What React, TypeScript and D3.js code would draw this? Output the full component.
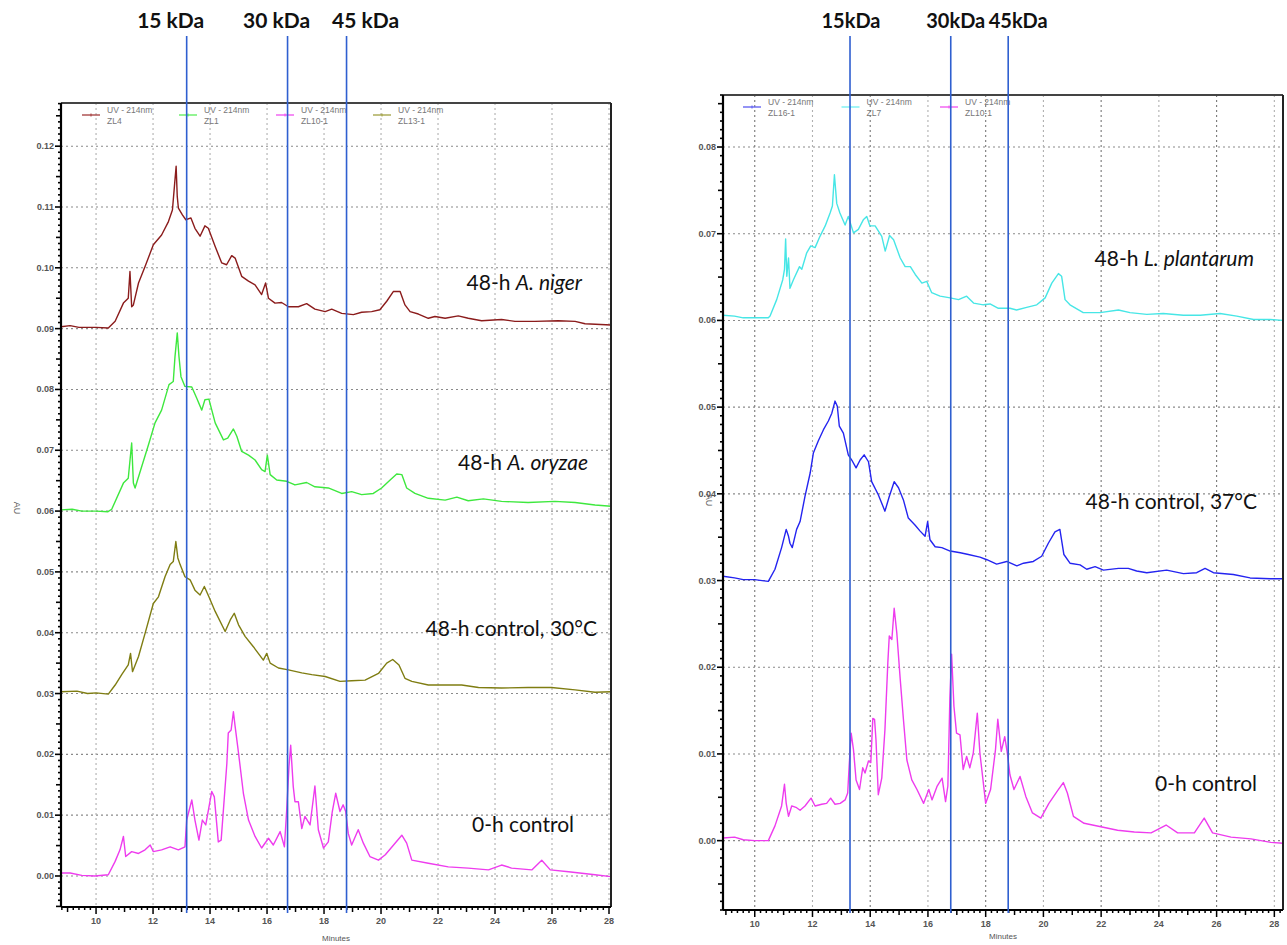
import React, { useRef, useEffect } from 'react';
import * as d3 from 'd3';

type Pt = [number, number];

// ---- left panel traces (minutes, AU) ----
const zl4: Pt[] = [
  [8.77, 0.0903], [9.09, 0.0905], [9.4, 0.0902], [10.0, 0.0902], [10.43, 0.0901], [10.67, 0.0912],
  [10.96, 0.0942], [11.13, 0.095], [11.19, 0.0994], [11.25, 0.0936], [11.31, 0.0939], [11.49, 0.0975],
  [11.72, 0.1002], [12.01, 0.1038], [12.3, 0.1054], [12.54, 0.1076], [12.68, 0.1095], [12.75, 0.1134],
  [12.81, 0.1167], [12.85, 0.1117], [12.89, 0.1098], [13.03, 0.1087], [13.15, 0.1079], [13.33, 0.1082],
  [13.47, 0.1065], [13.65, 0.1052], [13.82, 0.1069], [13.94, 0.1065], [14.18, 0.1035], [14.41, 0.1008],
  [14.58, 0.1005], [14.76, 0.102], [14.88, 0.1016], [15.11, 0.0986], [15.35, 0.0978], [15.58, 0.0972],
  [15.81, 0.0956], [15.95, 0.0975], [16.05, 0.095], [16.28, 0.0942], [16.51, 0.0943], [16.75, 0.0936],
  [17.1, 0.0936], [17.39, 0.0941], [17.68, 0.0932], [18.04, 0.0928], [18.27, 0.0932], [18.62, 0.0925],
  [19.03, 0.0923], [19.32, 0.0927], [19.67, 0.0928], [19.96, 0.0931], [20.2, 0.0945], [20.43, 0.0961],
  [20.67, 0.0961], [20.84, 0.0939], [21.02, 0.0928], [21.31, 0.0924], [21.66, 0.0917], [21.89, 0.092],
  [22.25, 0.0917], [22.71, 0.0921], [23.06, 0.0917], [23.53, 0.0913], [24.23, 0.0915], [24.7, 0.0912],
  [25.4, 0.0912], [26.22, 0.0913], [26.81, 0.0912], [27.16, 0.0908], [28.07, 0.0906],
];

const zl1: Pt[] = [
  [8.77, 0.0602], [9.16, 0.0603], [9.5, 0.06], [10.0, 0.06], [10.42, 0.0599], [10.55, 0.0603],
  [10.96, 0.0646], [11.13, 0.0654], [11.25, 0.0712], [11.31, 0.0646], [11.37, 0.0638], [11.6, 0.0673],
  [11.84, 0.0709], [12.07, 0.0745], [12.3, 0.0766], [12.56, 0.0808], [12.71, 0.0813], [12.77, 0.0854],
  [12.85, 0.0893], [12.91, 0.0854], [12.98, 0.0821], [13.12, 0.0805], [13.36, 0.0804], [13.53, 0.0786],
  [13.71, 0.0766], [13.82, 0.0783], [13.96, 0.0784], [14.18, 0.0745], [14.47, 0.0717], [14.62, 0.072],
  [14.82, 0.0735], [14.94, 0.0723], [15.11, 0.0698], [15.35, 0.0692], [15.58, 0.0684], [15.81, 0.0668],
  [15.93, 0.0665], [16.01, 0.0692], [16.11, 0.066], [16.34, 0.0651], [16.69, 0.0649], [16.98, 0.0643],
  [17.39, 0.0647], [17.68, 0.064], [18.15, 0.0638], [18.62, 0.0629], [18.97, 0.0632], [19.32, 0.0627],
  [19.73, 0.0629], [20.02, 0.0638], [20.32, 0.0651], [20.55, 0.0661], [20.73, 0.066], [20.9, 0.0638],
  [21.19, 0.0629], [21.66, 0.0621], [22.25, 0.0618], [22.66, 0.0623], [23.06, 0.0617], [23.59, 0.062],
  [24.23, 0.0616], [25.16, 0.0614], [26.1, 0.0616], [26.81, 0.0614], [27.51, 0.061], [28.07, 0.0608],
];

const zl13: Pt[] = [
  [8.77, 0.0303], [9.33, 0.0304], [9.7, 0.03], [10.0, 0.0301], [10.43, 0.0299], [10.67, 0.0314],
  [10.9, 0.0331], [11.13, 0.0347], [11.21, 0.0366], [11.28, 0.0336], [11.49, 0.0361], [11.72, 0.0399],
  [12.01, 0.0448], [12.19, 0.0459], [12.42, 0.0492], [12.6, 0.0512], [12.71, 0.0517], [12.8, 0.055],
  [12.87, 0.0523], [12.95, 0.0512], [13.12, 0.0492], [13.3, 0.0487], [13.47, 0.047], [13.65, 0.0462],
  [13.8, 0.0476], [13.96, 0.0459], [14.18, 0.0435], [14.53, 0.0402], [14.71, 0.0421], [14.85, 0.0432],
  [15.0, 0.0413], [15.23, 0.0394], [15.52, 0.0377], [15.87, 0.0355], [15.99, 0.0366], [16.11, 0.035],
  [16.4, 0.0342], [16.75, 0.0339], [17.22, 0.0334], [17.57, 0.0331], [18.04, 0.0328], [18.56, 0.032],
  [18.97, 0.0321], [19.44, 0.0322], [19.91, 0.0333], [20.2, 0.035], [20.41, 0.0356], [20.63, 0.0347],
  [20.84, 0.0325], [21.08, 0.032], [21.66, 0.0314], [22.25, 0.0314], [22.83, 0.0314], [23.42, 0.031],
  [24.23, 0.0309], [25.16, 0.031], [25.98, 0.031], [26.81, 0.0306], [27.51, 0.0302], [28.07, 0.0303],
];

const zl10Left: Pt[] = [
  [8.77, 0.0005], [9.09, 0.0005], [9.5, 0.0001], [9.96, 0.0], [10.43, 0.0002], [10.67, 0.0024],
  [10.84, 0.0043], [10.96, 0.0065], [11.04, 0.0032], [11.25, 0.004], [11.49, 0.0037], [11.72, 0.0043],
  [11.9, 0.0051], [12.01, 0.004], [12.3, 0.0043], [12.6, 0.0048], [12.89, 0.0043], [13.12, 0.0048],
  [13.18, 0.0092], [13.36, 0.0125], [13.47, 0.0092], [13.61, 0.0059], [13.73, 0.0092], [13.85, 0.0084],
  [14.06, 0.0139], [14.15, 0.013], [14.29, 0.0056], [14.39, 0.0059], [14.59, 0.0185], [14.64, 0.0235],
  [14.74, 0.024], [14.82, 0.027], [14.88, 0.0246], [15.0, 0.0202], [15.17, 0.0136], [15.35, 0.0092],
  [15.58, 0.0065], [15.81, 0.0046], [16.05, 0.0062], [16.22, 0.0051], [16.46, 0.0073], [16.61, 0.0048],
  [16.69, 0.0109], [16.77, 0.018], [16.83, 0.0215], [16.92, 0.0147], [16.98, 0.0122], [17.1, 0.0122],
  [17.22, 0.0078], [17.33, 0.0098], [17.51, 0.0084], [17.68, 0.0148], [17.8, 0.0076], [17.98, 0.0046],
  [18.15, 0.0056], [18.29, 0.0106], [18.41, 0.0136], [18.56, 0.0106], [18.67, 0.0117], [18.76, 0.0106],
  [18.85, 0.007], [18.97, 0.0051], [19.2, 0.0076], [19.38, 0.0054], [19.61, 0.0032], [19.91, 0.0026],
  [20.15, 0.0035], [20.44, 0.0051], [20.73, 0.0067], [20.9, 0.0054], [21.08, 0.0026], [21.66, 0.0021],
  [22.36, 0.0015], [23.06, 0.0013], [23.77, 0.001], [24.23, 0.0018], [24.58, 0.0013], [25.29, 0.001],
  [25.64, 0.0026], [25.94, 0.001], [26.58, 0.0007], [27.51, 0.0002], [28.07, -0.0001],
];

// ---- right panel traces ----
const zl7: Pt[] = [
  [8.9, 0.0606], [9.3, 0.0605], [9.6, 0.0603], [10.47, 0.0603], [10.53, 0.0605], [10.76, 0.0624],
  [10.97, 0.0647], [11.03, 0.0659], [11.07, 0.0694], [11.11, 0.0651], [11.17, 0.0672], [11.22, 0.0637],
  [11.34, 0.0647], [11.55, 0.0662], [11.63, 0.0659], [11.8, 0.0678], [11.94, 0.0686], [12.09, 0.0684],
  [12.26, 0.0697], [12.44, 0.0709], [12.61, 0.0724], [12.69, 0.0732], [12.76, 0.0768], [12.84, 0.0735],
  [12.95, 0.0724], [13.13, 0.071], [13.24, 0.072], [13.42, 0.0701], [13.59, 0.0705], [13.76, 0.0716],
  [13.88, 0.072], [13.99, 0.0709], [14.17, 0.0709], [14.4, 0.0697], [14.52, 0.068], [14.67, 0.0698],
  [14.81, 0.0693], [15.04, 0.0672], [15.21, 0.0662], [15.39, 0.0662], [15.56, 0.0653], [15.79, 0.0643],
  [15.96, 0.0645], [16.13, 0.0632], [16.42, 0.0628], [16.77, 0.0626], [17.06, 0.0624], [17.34, 0.0628],
  [17.58, 0.062], [17.92, 0.0618], [18.15, 0.0619], [18.44, 0.0614], [18.84, 0.0614], [19.07, 0.0612],
  [19.42, 0.0615], [19.77, 0.0618], [20.06, 0.0626], [20.29, 0.0643], [20.52, 0.0654], [20.63, 0.0651],
  [20.75, 0.0624], [20.92, 0.0618], [21.38, 0.0609], [21.96, 0.0609], [22.6, 0.0612], [23.0, 0.0609],
  [23.58, 0.0607], [24.15, 0.0608], [24.85, 0.0606], [25.43, 0.0606], [26.12, 0.0608], [26.7, 0.0605],
  [27.28, 0.0601], [27.86, 0.0601], [28.3, 0.06],
];

const zl16: Pt[] = [
  [8.9, 0.0305], [9.3, 0.0303], [9.6, 0.0301], [10.0, 0.0301], [10.47, 0.0299], [10.7, 0.0313],
  [10.93, 0.0338], [11.09, 0.0359], [11.17, 0.0351], [11.22, 0.0343], [11.3, 0.0338], [11.45, 0.0359],
  [11.57, 0.0368], [11.74, 0.0397], [11.92, 0.0424], [12.03, 0.0447], [12.2, 0.0461], [12.38, 0.0474],
  [12.55, 0.0484], [12.67, 0.0493], [12.78, 0.0507], [12.86, 0.0501], [12.93, 0.0478], [13.07, 0.047],
  [13.24, 0.0445], [13.36, 0.0439], [13.51, 0.043], [13.65, 0.0439], [13.79, 0.0445], [13.94, 0.0437],
  [14.05, 0.0414], [14.28, 0.0399], [14.51, 0.038], [14.66, 0.0397], [14.83, 0.0414], [14.98, 0.0407],
  [15.15, 0.0393], [15.32, 0.0372], [15.55, 0.0364], [15.73, 0.0357], [15.9, 0.0351], [15.99, 0.0368],
  [16.07, 0.0347], [16.25, 0.0339], [16.48, 0.0338], [16.77, 0.0334], [17.12, 0.0332], [17.4, 0.033],
  [17.8, 0.0327], [18.04, 0.0324], [18.38, 0.0319], [18.73, 0.0322], [19.08, 0.0317], [19.31, 0.032],
  [19.65, 0.0322], [19.94, 0.0328], [20.17, 0.0343], [20.4, 0.0356], [20.57, 0.0359], [20.71, 0.033],
  [20.92, 0.032], [21.27, 0.0318], [21.5, 0.0313], [21.79, 0.0316], [22.08, 0.0312], [22.6, 0.0314],
  [22.94, 0.0314], [23.23, 0.0311], [23.58, 0.0309], [24.27, 0.0312], [24.85, 0.0308], [25.31, 0.0309],
  [25.6, 0.0314], [25.89, 0.0309], [26.58, 0.0307], [27.16, 0.0303], [27.86, 0.0302], [28.3, 0.0302],
];

const zl10Right: Pt[] = [
  [8.9, 0.0003], [9.3, 0.0004], [9.6, 0.0001], [10.0, 0.0], [10.47, 0.0], [10.7, 0.0017],
  [10.93, 0.004], [11.03, 0.0065], [11.09, 0.0043], [11.17, 0.0028], [11.28, 0.004], [11.45, 0.0038],
  [11.57, 0.0035], [11.74, 0.004], [11.95, 0.0049], [12.09, 0.004], [12.32, 0.0042], [12.49, 0.0043],
  [12.63, 0.0049], [12.78, 0.0042], [12.96, 0.0043], [13.13, 0.0047], [13.22, 0.0055], [13.27, 0.0086],
  [13.34, 0.0124], [13.42, 0.0105], [13.51, 0.007], [13.63, 0.0059], [13.74, 0.0084], [13.82, 0.0078],
  [13.94, 0.0092], [14.02, 0.009], [14.09, 0.0141], [14.15, 0.014], [14.2, 0.0116], [14.28, 0.0053],
  [14.4, 0.0072], [14.51, 0.0128], [14.61, 0.0205], [14.66, 0.0236], [14.75, 0.0232], [14.83, 0.0268],
  [14.92, 0.024], [15.04, 0.0186], [15.15, 0.014], [15.27, 0.0093], [15.44, 0.007], [15.62, 0.0059],
  [15.85, 0.0043], [16.03, 0.0059], [16.14, 0.0047], [16.32, 0.0063], [16.49, 0.0072], [16.61, 0.0045],
  [16.69, 0.0063], [16.76, 0.0165], [16.82, 0.0215], [16.9, 0.0155], [16.99, 0.0124], [17.11, 0.0122],
  [17.22, 0.0082], [17.34, 0.0097], [17.45, 0.0084], [17.57, 0.0101], [17.71, 0.0147], [17.8, 0.0101],
  [18.0, 0.0043], [18.17, 0.0059], [18.34, 0.0105], [18.42, 0.014], [18.54, 0.0103], [18.66, 0.012],
  [18.75, 0.0101], [18.84, 0.0076], [18.98, 0.0059], [19.19, 0.0074], [19.39, 0.0051], [19.62, 0.0032],
  [19.91, 0.0026], [20.19, 0.0043], [20.48, 0.0057], [20.69, 0.0067], [20.83, 0.0055], [21.04, 0.0028],
  [21.41, 0.002], [21.99, 0.0016], [22.57, 0.0012], [23.15, 0.001], [23.73, 0.0009], [24.25, 0.0018],
  [24.65, 0.0009], [25.23, 0.0009], [25.57, 0.0026], [25.86, 0.0009], [26.5, 0.0004], [27.19, 0.0002],
  [27.88, -0.0002], [28.3, -0.0003],
];

const leftMarkers = [13.18, 16.72, 18.79];
const leftMarkerLabels = ['15 kDa', '30 kDa', '45 kDa'];
const rightMarkers = [13.3, 16.79, 18.78];
const rightMarkerLabels = ['15kDa', '30kDa', '45kDa'];

const leftLegend = ['ZL4', 'ZL1', 'ZL10-1', 'ZL13-1'];
const rightLegend = ['ZL16-1', 'ZL7', 'ZL10-1'];

const FONT = 'Lato, "Open Sans", sans-serif';

const panels = [
  {
    x: [61, 611], y: [907, 103], xd: [8.77, 28.07], yd: [-0.0051, 0.1271], yMax: 0.12,
    traces: [
      { data: zl4, color: '#8b1c1c' },
      { data: zl1, color: '#3ee83e' },
      { data: zl13, color: '#7f7d12' },
      { data: zl10Left, color: '#ee3cee' },
    ],
    legend: leftLegend, legendColors: ['#a33a3a', '#5aee5a', '#f050f0', '#a0a040'], legendX: 82, legendY: 110, legendStep: 97,
    markers: leftMarkers, markerLabels: leftMarkerLabels, markerDx: [-16, -11, 19], markerSize: 21,
    labels: [
      { y: 290, x: 582, parts: [['48-h ', false], ['A. niger', true]] },
      { y: 470, x: 588, parts: [['48-h ', false], ['A. oryzae', true]] },
      { y: 636, x: 597, parts: [['48-h control, 30°C', false]] },
      { y: 832, x: 574, parts: [['0-h control', false]] },
    ],
    auX: 14, auY: 508, minutesY: 941,
  },
  {
    x: [723, 1283], y: [910, 95], xd: [8.9, 28.3], yd: [-0.008, 0.086], yMax: 0.08,
    traces: [
      { data: zl7, color: '#47e6e6' },
      { data: zl16, color: '#2424f0' },
      { data: zl10Right, color: '#ee3cee' },
    ],
    legend: rightLegend, legendColors: ['#5a5af0', '#70f0f0', '#f050f0'], legendX: 743, legendY: 102, legendStep: 98.5,
    markers: rightMarkers, markerLabels: rightMarkerLabels, markerDx: [1, 5, 10], markerSize: 20,
    labels: [
      { y: 266, x: 1254, parts: [['48-h ', false], ['L. plantarum', true]] },
      { y: 509, x: 1257, parts: [['48-h control, 37°C', false]] },
      { y: 791, x: 1257, parts: [['0-h control', false]] },
    ],
    auX: 706, auY: 500, minutesY: 939,
  },
];

const App = () => {
  const svgRef = useRef<SVGSVGElement | null>(null);

  useEffect(() => {
    if (!svgRef.current) return;
    const svg = d3.select(svgRef.current);
    svg.selectAll('*').remove();

    panels.forEach((p, pi) => {
      const xs = d3.scaleLinear().domain(p.xd).range(p.x);
      const ys = d3.scaleLinear().domain(p.yd).range(p.y);
      const g = svg.append('g');
      const [x0, x1] = p.x;
      const [y1, y0] = p.y;

      // grid
      const yMajor = d3.range(0, p.yMax + 0.0001, 0.01);
      const xMajor = d3.range(10, 28.01, 2);
      g.selectAll('.hg').data(yMajor).enter().append('line')
        .attr('x1', x0).attr('x2', x1)
        .attr('y1', d => ys(d)).attr('y2', d => ys(d))
        .attr('stroke', '#8a8a8a').attr('stroke-width', 1.1).attr('stroke-dasharray', '2,3');
      g.selectAll('.vg').data(xMajor).enter().append('line')
        .attr('x1', d => xs(d)).attr('x2', d => xs(d))
        .attr('y1', y0).attr('y2', y1)
        .attr('stroke', (d, i) => (pi === 1 && i % 2 === 0 ? '#777' : '#b0b0b0'))
        .attr('stroke-width', 1.1).attr('stroke-dasharray', '2,3');

      // traces
      const clipId = `clip${pi}`;
      svg.append('clipPath').attr('id', clipId).append('rect')
        .attr('x', x0).attr('y', y0).attr('width', x1 - x0).attr('height', y1 - y0);
      const line = d3.line<Pt>().x(d => xs(d[0])).y(d => ys(d[1]));
      p.traces.forEach(t => {
        g.append('path').attr('d', line(t.data) || '')
          .attr('fill', 'none').attr('stroke', t.color).attr('stroke-width', 1.4)
          .attr('stroke-linejoin', 'round').attr('clip-path', `url(#${clipId})`);
      });

      // frame
      g.append('line').attr('x1', x0).attr('x2', x1).attr('y1', y0).attr('y2', y0)
        .attr('stroke', '#444').attr('stroke-width', 2);
      g.append('line').attr('x1', x1).attr('x2', x1).attr('y1', y0).attr('y2', y1)
        .attr('stroke', '#222').attr('stroke-width', 2);
      g.append('line').attr('x1', x0).attr('x2', x0).attr('y1', y0).attr('y2', y1)
        .attr('stroke', '#000').attr('stroke-width', 2.2);
      g.append('line').attr('x1', x0).attr('x2', x1).attr('y1', y1).attr('y2', y1)
        .attr('stroke', '#000').attr('stroke-width', 2.2);

      // y ticks
      const yMinor = d3.range(Math.ceil(p.yd[0] * 1000), Math.floor(p.yd[1] * 1000) + 1).map(d => d / 1000);
      g.selectAll('.yt').data(yMinor).enter().append('line')
        .attr('x1', d => {
          const k = Math.round(d * 1000);
          return x0 - (k % 10 === 0 ? 6 : k % 5 === 0 ? 5 : 3);
        })
        .attr('x2', x0).attr('y1', d => ys(d)).attr('y2', d => ys(d))
        .attr('stroke', '#000').attr('stroke-width', 1.6);
      g.selectAll('.yl').data(yMajor).enter().append('text')
        .attr('x', x0 - 7).attr('y', d => ys(d) + 3)
        .attr('text-anchor', 'end').attr('font-family', 'Arial, "Liberation Sans", sans-serif')
        .attr('font-size', 9).attr('font-weight', 'bold').attr('fill', '#555')
        .text(d => d.toFixed(2));

      // x ticks
      const xMinor = d3.range(Math.ceil(p.xd[0] * 5), Math.floor(p.xd[1] * 5) + 1).map(d => d / 5);
      g.selectAll('.xt').data(xMinor).enter().append('line')
        .attr('x1', d => xs(d)).attr('x2', d => xs(d))
        .attr('y1', y1)
        .attr('y2', d => {
          const k = Math.round(d * 5);
          return y1 + (k % 10 === 0 ? 7 : k % 5 === 0 ? 5 : 3);
        })
        .attr('stroke', '#000').attr('stroke-width', 1.5);
      g.selectAll('.xl').data(xMajor).enter().append('text')
        .attr('x', d => xs(d)).attr('y', y1 + 17)
        .attr('text-anchor', 'middle').attr('font-family', 'Arial, "Liberation Sans", sans-serif')
        .attr('font-size', 9).attr('font-weight', 'bold').attr('fill', '#555')
        .text(d => d);

      // axis titles
      g.append('text').attr('x', (x0 + x1) / 2).attr('y', p.minutesY)
        .attr('text-anchor', 'middle').attr('font-family', 'Arial, sans-serif')
        .attr('font-size', 8).attr('fill', '#555').text('Minutes');
      g.append('text').attr('transform', `translate(${p.auX},${p.auY}) rotate(90)`)
        .attr('text-anchor', 'middle').attr('font-family', 'Arial, sans-serif')
        .attr('font-size', 9).attr('fill', '#555').text('AU');

      // legend
      p.legend.forEach((name, i) => {
        const lx = p.legendX + i * p.legendStep;
        const lg = g.append('g');
        lg.append('line').attr('x1', lx).attr('x2', lx + 18).attr('y1', p.legendY + 5).attr('y2', p.legendY + 5)
          .attr('stroke', p.legendColors[i]).attr('stroke-width', 1.3);
        lg.append('line').attr('x1', lx + 9).attr('x2', lx + 9).attr('y1', p.legendY + 3.5).attr('y2', p.legendY + 6.5)
          .attr('stroke', p.legendColors[i]).attr('stroke-width', 1);
        lg.append('text').attr('x', lx + 25).attr('y', p.legendY + 3)
          .attr('font-family', 'Arial, sans-serif').attr('font-size', 8.5).attr('fill', '#777')
          .text('UV - 214nm');
        lg.append('text').attr('x', lx + 25).attr('y', p.legendY + 14)
          .attr('font-family', 'Arial, sans-serif').attr('font-size', 8.5).attr('fill', '#777')
          .text(name);
      });

      // kDa marker lines
      p.markers.forEach((m, i) => {
        g.append('line').attr('x1', xs(m)).attr('x2', xs(m)).attr('y1', 36).attr('y2', 913)
          .attr('stroke', '#2f5fd0').attr('stroke-width', 1.6);
        g.append('text').attr('x', xs(m) + p.markerDx[i]).attr('y', 28)
          .attr('text-anchor', 'middle').attr('font-family', FONT).attr('font-weight', 'bold')
          .attr('font-size', p.markerSize).attr('fill', '#111').text(p.markerLabels[i]);
      });

      // trace labels
      p.labels.forEach(l => {
        const t = g.append('text').attr('x', l.x).attr('y', l.y)
          .attr('text-anchor', 'end').attr('font-family', FONT)
          .attr('font-size', 21).attr('fill', '#111');
        l.parts.forEach(([s, it]) => {
          t.append('tspan').attr('font-style', it ? 'italic' : 'normal').text(s as string);
        });
      });
    });
  }, []);

  return (
    <svg
      ref={svgRef}
      width={1287}
      height={945}
      style={{ position: 'absolute', left: 0, top: 0, background: '#fff' }}
    />
  );
};

export default App;
